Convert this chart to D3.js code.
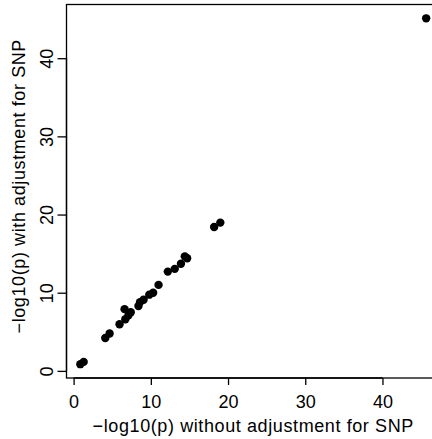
<!DOCTYPE html>
<html>
<head>
<meta charset="utf-8">
<script src="https://cdn.jsdelivr.net/npm/d3@7"></script>
<style>
body { margin: 0; background: #fff; }
text { font-family: "Liberation Sans", Arial, sans-serif; }
</style>
</head>
<body>
<script>
// -log10(p) without / with adjustment for SNP
const unadjusted = [0.87, 1.3, 4.1, 4.66, 5.95, 6.7, 7.1, 7.4, 6.6, 8.4, 8.6, 9.06, 9.8, 10.3, 11.0, 12.2, 13.1, 13.9, 14.4, 14.7, 18.2, 19.0, 45.66]
const adjusted = [0.86, 1.15, 4.2, 4.78, 5.97, 6.6, 7.1, 7.5, 7.9, 8.3, 8.8, 9.1, 9.75, 10.0, 11.0, 12.7, 13.05, 13.7, 14.65, 14.4, 18.4, 18.97, 45.1]
const xTicks = [0, 10, 20, 30, 40]
const yTicks = [0, 10, 20, 30, 40]

const width = 432
const height = 439
const fontSize = 18

const svg = d3.select('body').append('svg')
	.attr('width', width)
	.attr('height', height)

// R style: 4% padding on data range
const pad = ext => {
	const d = (ext[1] - ext[0]) * 0.04
	return [ext[0] - d, ext[1] + d]
}

const x = d3.scaleLinear()
	.domain(pad(d3.extent(unadjusted)))
	.range([66.5, 440])

const y = d3.scaleLinear()
	.domain(pad(d3.extent(adjusted)))
	.range([378, 4.5])

// box
svg.append('rect')
	.attr('x', x.range()[0])
	.attr('y', y.range()[1])
	.attr('width', x.range()[1] - x.range()[0])
	.attr('height', y.range()[0] - y.range()[1])
	.attr('fill', 'none')
	.attr('stroke', '#000')
	.attr('stroke-width', 1.3)

const xAxis = d3.axisBottom(x)
	.tickValues(xTicks)
	.tickSize(7)
	.tickFormat(d3.format('d'))

const gx = svg.append('g')
	.attr('transform', `translate(0,${y.range()[0]})`)
	.call(xAxis)

gx.select('.domain')
	.attr('d', `M${x(xTicks[0])},0H${x(xTicks[xTicks.length - 1])}`)
	.attr('stroke-width', 1.3)

gx.selectAll('.tick line').attr('stroke-width', 1.3)
gx.selectAll('.tick text')
	.attr('font-size', fontSize)
	.attr('fill', '#000')
	.attr('y', 30)
	.attr('dy', 0)
	.style('font-family', '"Liberation Sans", Arial, sans-serif')

const yAxis = d3.axisLeft(y)
	.tickValues(yTicks)
	.tickSize(9)
	.tickFormat(d3.format('d'))

const gy = svg.append('g')
	.attr('transform', `translate(${x.range()[0]},0)`)
	.call(yAxis)

gy.select('.domain')
	.attr('d', `M0,${y(yTicks[0])}V${y(yTicks[yTicks.length - 1])}`)
	.attr('stroke-width', 1.3)

gy.selectAll('.tick line').attr('stroke-width', 1.3)
gy.selectAll('.tick text')
	.attr('font-size', fontSize)
	.attr('fill', '#000')
	.attr('x', 0)
	.attr('dy', 0)
	.attr('text-anchor', 'middle')
	.attr('transform', 'translate(-14,0) rotate(-90)')
	.style('font-family', '"Liberation Sans", Arial, sans-serif')

// axis titles
const midX = (x.range()[0] + x.range()[1]) / 2
const midY = (y.range()[0] + y.range()[1]) / 2

svg.append('text')
	.attr('x', midX)
	.attr('y', 432)
	.attr('text-anchor', 'middle')
	.attr('font-size', fontSize)
	.style('letter-spacing', '0.6px')
	.text('\u2212log10(p) without adjustment for SNP')

svg.append('text')
	.attr('transform', `translate(25,${midY - 5}) rotate(-90)`)
	.attr('text-anchor', 'middle')
	.attr('font-size', fontSize)
	.style('letter-spacing', '0.6px')
	.text('\u2212log10(p) with adjustment for SNP')

// points
const points = unadjusted.map((v, i) => ({x: v, y: adjusted[i]}))

svg.append('g')
	.selectAll('circle')
	.data(points)
	.enter()
		.append('circle')
			.attr('cx', d => x(d.x))
			.attr('cy', d => y(d.y))
			.attr('r', 4.2)
			.attr('fill', '#000')
</script>
</body>
</html>
